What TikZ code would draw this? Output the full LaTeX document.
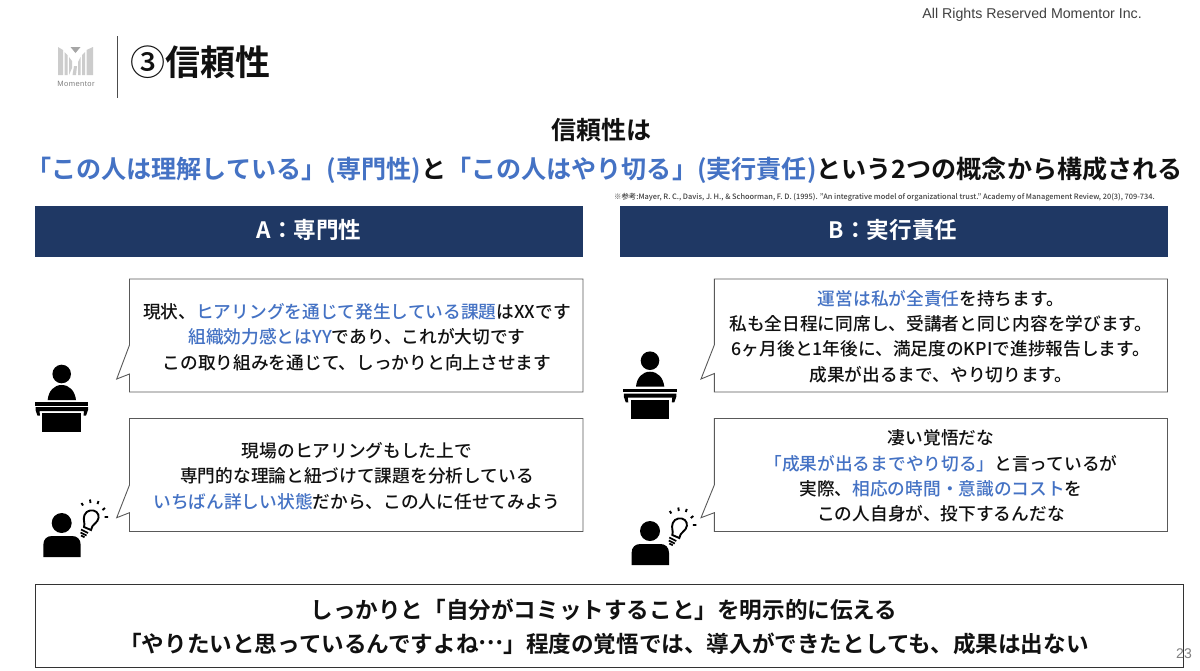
\documentclass[tikz,border=0pt]{standalone}
\usepackage{fontspec}
\setmainfont{Noto Sans CJK JP Medium}[BoldFont=Noto Sans CJK JP Bold]
\newfontfamily\latinf{Liberation Sans}
\definecolor{navy}{HTML}{1F3864}
\definecolor{acc}{HTML}{4472C4}
\definecolor{ink}{HTML}{111111}
\newcommand{\hl}[1]{{\color{acc}#1}}
\newcommand{\sz}[1]{\fontsize{#1}{#1}\selectfont}
\tikzset{
  x=1pt,y=-1pt,
  bubble/.style={draw=black!65,line width=0.9pt,fill=white,line join=miter},
  headbar/.style={fill=navy,draw=none},
  bodytext/.style={align=center,text=ink,font=\fontsize{17.7}{25.3}\selectfont,inner sep=0pt,text width=450pt},
  headtext/.style={text=white,font=\sz{22.6}\bfseries,inner sep=0pt},
  icon/.style={fill=black,draw=none},
  bulb/.style={draw=black,line width=1.9pt,fill=none},
  logobar/.style={fill=black!20,draw=none}
}
\newcommand{\speaker}[2]{%
 \begin{scope}[shift={(#1,#2)}]
  \fill[icon] (61.7,374) circle (9.3);
  \fill[icon] (47.7,400) .. controls (48.5,391) and (54,385) .. (61.7,385) .. controls (69.5,385) and (75,391) .. (76,400) -- cycle;
  \fill[icon] (35,402.3) rectangle (88.3,405.7);
  \fill[icon] (35.5,407) -- (88,407) -- (88,410) -- (86,415.7) -- (83.5,415.7) -- (84,411) -- (39.5,411) -- (40,415.7) -- (37.5,415.7) -- (35.5,410) -- cycle;
  \fill[icon] (42.3,413) rectangle (81,432);
 \end{scope}}
\newcommand{\thinker}[2]{%
 \begin{scope}[shift={(#1,#2)}]
  \fill[icon] (61.7,523) circle (10);
  \fill[icon] (43.3,557) -- (43.3,545) .. controls (43.3,539) and (47,536) .. (52,536) -- (72,536) .. controls (77,536) and (80.7,539) .. (80.7,545) -- (80.7,557) -- cycle;
  \draw[bulb] (84,527) .. controls (85.5,523) and (82.5,520) .. (84.5,515) .. controls (86.5,510) and (93,509) .. (96.5,512) .. controls (100,515) and (99,520.5) .. (95,523.5) .. controls (93,525) and (91.5,527) .. (91,530) -- cycle;
  \draw[line width=1.7pt] (81,529.5) -- (88,533) (80.5,532.5) -- (86.5,535.5) (81,535.5) -- (84.5,537.3);
  \draw[line width=1.9pt] (81.5,503) -- (83,505.5) (90,499.5) -- (90.5,503) (98.5,501) -- (97.5,504) (105,508) -- (102.5,510) (108,517) -- (104.5,517);
 \end{scope}}
\begin{document}
\begin{tikzpicture}
\useasboundingbox (0,0) rectangle (1200,670);
\fill[white] (0,0) rectangle (1200,670);
% logo
\fill[logobar] (58,47) -- (63,50) -- (63,75) -- (58,75) -- cycle;
\fill[logobar] (64.5,52) -- (67.5,55) -- (67.5,75) -- (64.5,75) -- cycle;
\fill[logobar] (69,57) -- (72,61) -- (72,68) -- (69,75) -- cycle;
\fill[logobar] (74,66) -- (72.5,75) -- (76,75) -- (77,66) -- cycle;
\fill[logobar] (78,62) -- (80.5,57) -- (80.5,75) -- (78,75) -- cycle;
\fill[logobar] (82,55) -- (85,52) -- (85,75) -- (82,75) -- cycle;
\fill[logobar] (86.5,50) -- (93,47) -- (93,75) -- (86.5,75) -- cycle;
\fill[black!35] (70.5,47) -- (80.5,47) -- (75.5,53) -- cycle;
\node[inner sep=0pt,text=black!50,font=\latinf\sz{7.6}\addfontfeature{LetterSpace=6}] (brand) at (76,83.5) {Momentor};
\draw[black!70,line width=1pt] (117,36) -- (117,98);
\node[anchor=west,inner sep=0pt,font=\sz{35}\bfseries,text=ink] (title) at (130,62) {{\mdseries ③}信頼性};
\node[anchor=east,inner sep=0pt,font=\latinf\sz{14.2},text=black!75] (rights) at (1142,15) {All Rights Reserved Momentor Inc.};
% heading
\node[inner sep=0pt,font=\sz{25}\bfseries,text=ink] (lead1) at (601,130) {信頼性は};
\node[inner sep=0pt,font=\sz{25.1}\bfseries,text=ink] (lead2) at (604.5,170) {\hl{「この人は理解している」(専門性)}と\hl{「この人はやり切る」(実行責任)}という2つの概念から構成される};
\node[anchor=east,inner sep=0pt,font=\sz{7.4},text=black!75] (cite) at (1155,197.5) {※参考:Mayer, R. C., Davis, J. H., \& Schoorman, F. D. (1995). "An integrative model of organizational trust." Academy of Management Review, 20(3), 709-734.};
% headers
\fill[headbar] (35,206) rectangle (583,257);
\fill[headbar] (620,206) rectangle (1168,257);
\node[headtext] (ha) at (309,230) {A：専門性};
\node[headtext] (hb) at (893,230) {B：実行責任};
% bubbles
\draw[bubble] (129.5,279) -- (583,279) -- (583,392) -- (129.5,392) -- (129.5,374) -- (116.7,379) -- (129.5,345) -- cycle;
\draw[bubble] (129.5,418.5) -- (583,418.5) -- (583,531.5) -- (129.5,531.5) -- (129.5,512.7) -- (116.7,517.7) -- (129.5,485) -- cycle;
\draw[bubble] (714.3,279) -- (1167.5,279) -- (1167.5,392) -- (714.3,392) -- (714.3,373.5) -- (701,379) -- (714.3,345) -- cycle;
\draw[bubble] (714.3,418.5) -- (1167.5,418.5) -- (1167.5,531.5) -- (714.3,531.5) -- (714.3,512.7) -- (701,517.7) -- (714.3,485) -- cycle;
\node[bodytext] (t1) at (357,337) {現状、\hl{ヒアリングを通じて発生している課題}はXXです\\\hl{組織効力感とはYY}であり、これが大切です\\この取り組みを通じて、しっかりと向上させます};
\node[bodytext] (t2) at (357,476) {現場のヒアリングもした上で\\専門的な理論と紐づけて課題を分析している\\\hl{いちばん詳しい状態}だから、この人に任せてみよう};
\node[bodytext] (t3) at (941,336.5) {\hl{運営は私が全責任}を持ちます。\\私も全日程に同席し、受講者と同じ内容を学びます。\\6ヶ月後と1年後に、満足度のKPIで進捗報告します。\\成果が出るまで、やり切ります。};
\node[bodytext] (t4) at (941,476) {凄い覚悟だな\\\hl{「成果が出るまでやり切る」}と言っているが\\実際、\hl{相応の時間・意識のコスト}を\\この人自身が、投下するんだな};
% icons
\speaker{0}{0}
\speaker{588.3}{-13.3}
\thinker{0}{0}
\thinker{588.3}{8}
% bottom
\draw[black!80,line width=1pt] (35,584.5) rectangle (1183,667);
\node[inner sep=0pt,align=center,font=\fontsize{22.6}{34}\selectfont\bfseries,text=ink] (concl) at (604,626.5) {しっかりと「自分がコミットすること」を明示的に伝える\\「やりたいと思っているんですよね\raisebox{0.32em}{…}」程度の覚悟では、導入ができたとしても、成果は出ない};
\node[inner sep=0pt,font=\latinf\sz{14},text=black!50] (pg) at (1184,654) {23};
\end{tikzpicture}
\end{document}
